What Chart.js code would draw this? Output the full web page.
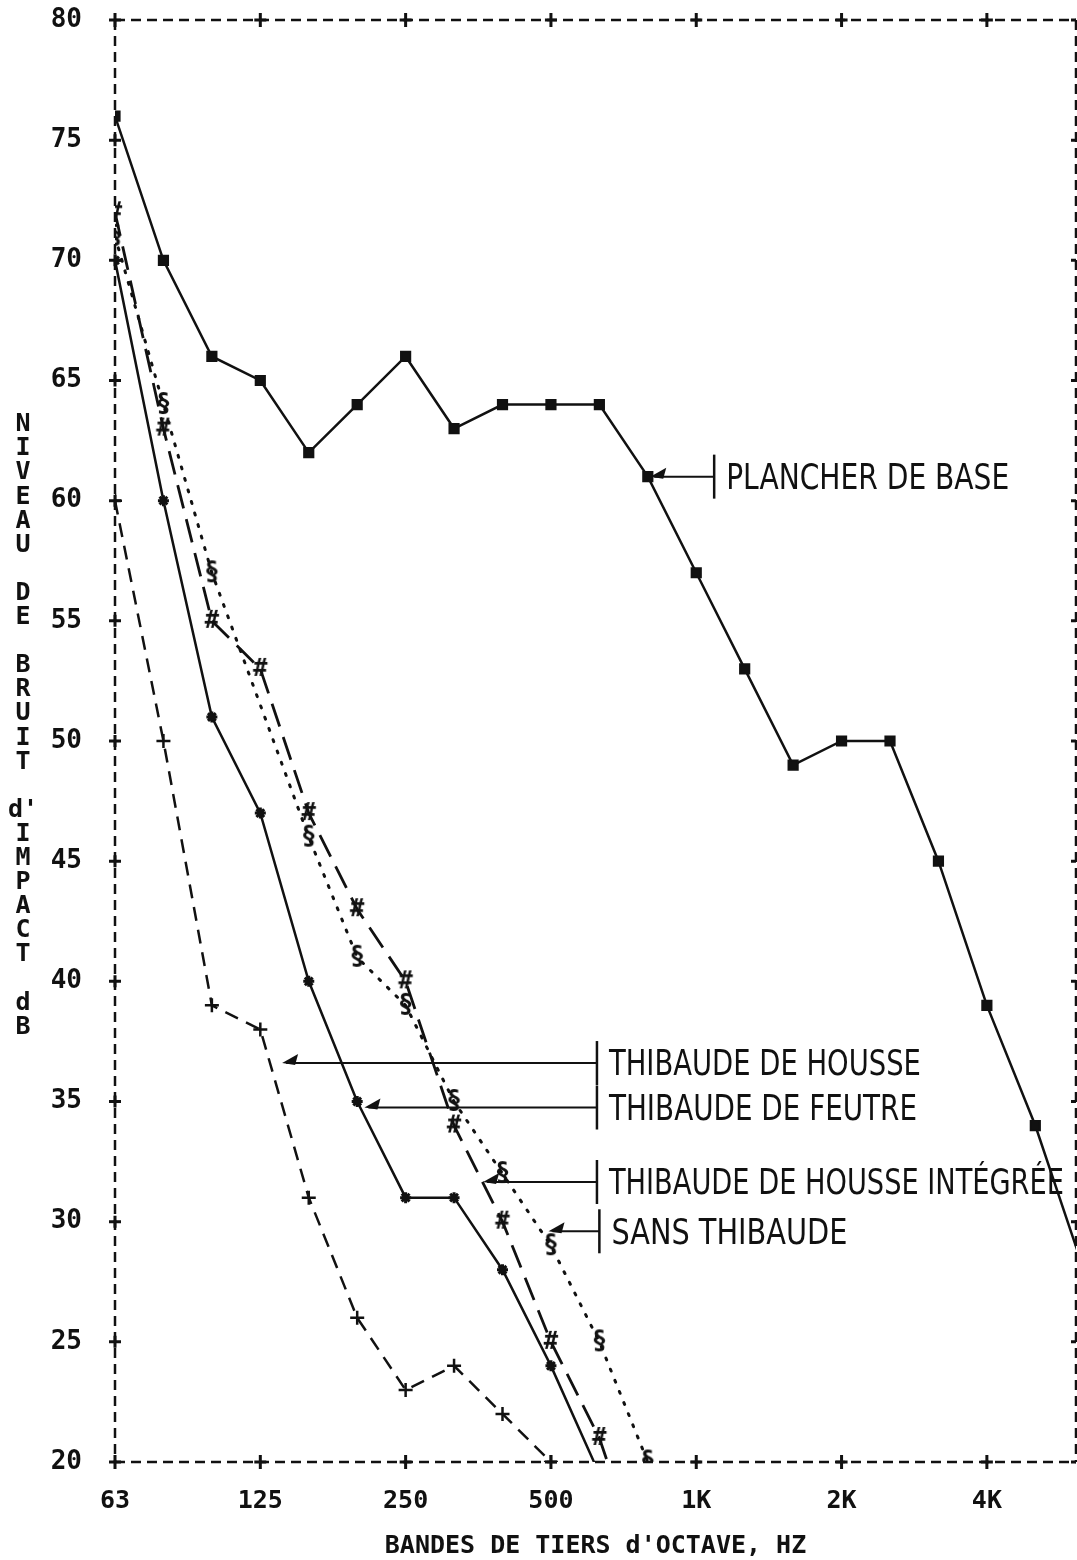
<!DOCTYPE html>
<html>
<head>
<meta charset="utf-8">
<title>Niveau de bruit d'impact</title>
<script src="https://cdn.jsdelivr.net/npm/chart.js@4.4.0/dist/chart.umd.min.js"></script>
<style>
	html, body { margin: 0; padding: 0; background: #fff; }
	#wrap { width: 1077px; height: 1560px; }
</style>
</head>
<body>
<div id="wrap"><canvas id="myChart" width="1077" height="1560"></canvas></div>
<script>
//-----------------Data-------------------//
// bandes de tiers d'octave (Hz)
const bands = ['63', '80', '100', '125', '160', '200', '250', '315', '400', '500',
	'630', '800', '1000', '1250', '1600', '2000', '2500', '3150', '4000', '5000', '6300'];
const xTickBands = ['63', '125', '250', '500', '1000', '2000', '4000'];
const xTickLabels = ['63', '125', '250', '500', '1K', '2K', '4K'];
const yTickValues = [20, 25, 30, 35, 40, 45, 50, 55, 60, 65, 70, 75, 80];

// niveaux (dB), one value per band, null = no point read
const plancherDeBase = [76, 70, 66, 65, 62, 64, 66, 63, 64, 64, 64, 61, 57, 53, 49, 50, 50, 45, 39, 34, 28];
const sansThibaude = [71, 64, 57, null, 46, 41, 39, 35, 32, 29, 25, 20];
const thibaudeHousseIntegree = [72, 63, 55, 53, 47, 43, 40, 34, 30, 25, 21, 15];
const thibaudeFeutre = [70, 60, 51, 47, 40, 35, 31, 31, 28, 24, 19.5];
const thibaudeHousse = [60, 50, 39, 38, 31, 26, 23, 24, 22, 20];

const noteLabels = ['PLANCHER DE BASE', 'THIBAUDE DE HOUSSE', 'THIBAUDE DE FEUTRE',
	'THIBAUDE DE HOUSSE INTÉGRÉE', 'SANS THIBAUDE'];
const yTitle = ['N', 'I', 'V', 'E', 'A', 'U', '', 'D', 'E', '', 'B', 'R', 'U', 'I', 'T', '',
	"d'", 'I', 'M', 'P', 'A', 'C', 'T', '', 'd', 'B'];
const xTitle = "BANDES DE TIERS d'OCTAVE, HZ";
//-----------------Data-------------------//

const ink = '#111';
const mono = '"DejaVu Sans Mono", "Liberation Mono", monospace';

// leader lines of the hand-written notes, in band index / dB
const notes = [
	{ tip: 11.05, tick: 12.37, y: 61.0, width: 283 },
	{ tip: 3.45, tick: 9.95, y: 36.6, width: 312 },
	{ tip: 5.15, tick: 9.95, y: 34.75, width: 308 },
	{ tip: 7.6, tick: 9.95, y: 31.65, width: 455 },
	{ tip: 8.95, tick: 10.0, y: 29.6, width: 236 }
];

function glyphMarker(ch, size) {
	const c = document.createElement('canvas');
	c.width = Math.round(size * 0.9);
	c.height = Math.round(size * 1.25);
	const g = c.getContext('2d');
	g.fillStyle = ink;
	g.font = 'bold ' + size + 'px ' + mono;
	g.textAlign = 'center';
	g.textBaseline = 'middle';
	g.fillText(ch, c.width / 2, c.height / 2 + 1);
	return c;
}

function toPoints(values) {
	return values.map((v, i) => ({ x: i, y: v }));
}

// keep tick labels from pushing the plot box inwards
function noScalePadding(s) {
	s.paddingTop = 0;
	s.paddingBottom = 0;
	s.paddingLeft = 0;
	s.paddingRight = 0;
}

const ctx = document.getElementById('myChart');

const framePlugin = {
	id: 'frame',
	beforeDatasetsDraw(chart) {
		const { ctx, chartArea: a, scales: { x, y } } = chart;
		ctx.save();
		ctx.strokeStyle = ink;
		ctx.lineWidth = 2.5;
		ctx.setLineDash([10, 6]);
		ctx.beginPath();
		ctx.moveTo(a.left, a.top); ctx.lineTo(a.right, a.top);
		ctx.moveTo(a.left, a.bottom); ctx.lineTo(a.right, a.bottom);
		ctx.moveTo(a.left, a.top); ctx.lineTo(a.left, a.bottom);
		ctx.moveTo(a.right, a.top); ctx.lineTo(a.right, a.bottom);
		ctx.stroke();
		ctx.setLineDash([]);
		ctx.lineWidth = 3;
		ctx.beginPath();
		y.ticks.forEach(t => {
			const py = y.getPixelForValue(t.value);
			ctx.moveTo(a.left - 6, py); ctx.lineTo(a.left + 6, py);
			ctx.moveTo(a.left, py - 6); ctx.lineTo(a.left, py + 6);
			ctx.moveTo(a.right - 5, py); ctx.lineTo(a.right, py);
		});
		x.ticks.forEach(t => {
			const px = x.getPixelForValue(t.value);
			[a.top, a.bottom].forEach(py => {
				ctx.moveTo(px - 6, py); ctx.lineTo(px + 6, py);
				ctx.moveTo(px, py - 7); ctx.lineTo(px, py + 7);
			});
		});
		ctx.stroke();
		ctx.restore();
	}
};

const notesPlugin = {
	id: 'notes',
	afterDatasetsDraw(chart) {
		const { ctx, chartArea: a, scales: { x, y } } = chart;
		ctx.save();
		ctx.strokeStyle = ink;
		ctx.fillStyle = ink;
		notes.forEach((n, i) => {
			const tipX = x.getPixelForValue(n.tip);
			const tickX = x.getPixelForValue(n.tick);
			const py = y.getPixelForValue(n.y);
			ctx.lineWidth = 2;
			ctx.beginPath();
			ctx.moveTo(tipX + 4, py); ctx.lineTo(tickX, py);
			ctx.stroke();
			// arrow head
			ctx.beginPath();
			ctx.moveTo(tipX, py);
			ctx.lineTo(tipX + 16, py - 9);
			ctx.lineTo(tipX + 13, py + 2);
			ctx.closePath();
			ctx.fill();
			// end tick
			ctx.lineWidth = 2.5;
			ctx.beginPath();
			ctx.moveTo(tickX, py - 22); ctx.lineTo(tickX, py + 22);
			ctx.stroke();
			// label
			const size = 36;
			ctx.font = size + 'px "DejaVu Sans Condensed", "DejaVu Sans", sans-serif';
			ctx.textBaseline = 'alphabetic';
			ctx.textAlign = 'left';
			const w = ctx.measureText(noteLabels[i]).width;
			ctx.save();
			ctx.translate(tickX + 12, py + size * 0.34);
			ctx.scale(n.width / w, 1);
			ctx.fillText(noteLabels[i], 0, 0);
			ctx.restore();
		});
		// axis titles
		ctx.font = 'bold 25px ' + mono;
		ctx.textAlign = 'center';
		ctx.textBaseline = 'middle';
		const step = 24.1;
		const y0 = (a.top + a.bottom) / 2 - 15 - step * (yTitle.length - 1) / 2;
		yTitle.forEach((ch, i) => {
			if (ch) ctx.fillText(ch, 23, y0 + i * step);
		});
		ctx.fillText(xTitle, (a.left + a.right) / 2, a.bottom + 84);
		ctx.restore();
	}
};

const tickIndex = xTickBands.map(b => bands.indexOf(b));

const myChart = new Chart(ctx, {
	type: 'line',
	data: {
		datasets: [
			{
				label: 'Plancher de base',
				data: toPoints(plancherDeBase),
				borderColor: ink,
				backgroundColor: ink,
				borderWidth: 2.5,
				pointStyle: 'rect',
				pointRadius: 6.5,
				pointBorderWidth: 2
			},
			{
				label: 'Sans thibaude',
				data: toPoints(sansThibaude),
				borderColor: ink,
				borderWidth: 3,
				borderDash: [2, 10],
				borderCapStyle: 'round',
				spanGaps: true,
				pointStyle: glyphMarker('§', 26)
			},
			{
				label: 'Thibaude de housse intégrée',
				data: toPoints(thibaudeHousseIntegree),
				borderColor: ink,
				borderWidth: 2.8,
				borderDash: [24, 11],
				pointStyle: glyphMarker('#', 24)
			},
			{
				label: 'Thibaude de feutre',
				data: toPoints(thibaudeFeutre),
				borderColor: ink,
				backgroundColor: ink,
				borderWidth: 2.5,
				pointStyle: 'star',
				pointRadius: 5.5,
				pointBorderWidth: 3
			},
			{
				label: 'Thibaude de housse',
				data: toPoints(thibaudeHousse),
				borderColor: ink,
				backgroundColor: ink,
				borderWidth: 2.5,
				borderDash: [14, 9],
				pointStyle: 'cross',
				pointRadius: 7,
				pointBorderWidth: 2.5
			}
		]
	},
	options: {
		responsive: false,
		animation: false,
		devicePixelRatio: 1,
		layout: { autoPadding: false, padding: { top: 20, right: 1, bottom: 0, left: 0 } },
		plugins: {
			legend: { display: false },
			tooltip: { enabled: false }
		},
		scales: {
			x: {
				type: 'linear',
				min: 0,
				max: 19.84,
				afterBuildTicks: s => { s.ticks = tickIndex.map(v => ({ value: v })); },
				afterFit: s => { s.height = 98; noScalePadding(s); },
				grid: { display: false },
				border: { display: false },
				ticks: {
					autoSkip: false,
					maxRotation: 0,
					padding: 16,
					color: ink,
					font: { family: mono, size: 25, weight: 'bold' },
					callback: v => xTickLabels[tickIndex.indexOf(v)]
				}
			},
			y: {
				min: 20,
				max: 80,
				afterBuildTicks: s => { s.ticks = yTickValues.map(v => ({ value: v })); },
				afterFit: s => { s.width = 115; noScalePadding(s); },
				grid: { display: false },
				border: { display: false },
				ticks: {
					padding: 25,
					color: ink,
					font: { family: mono, size: 26, weight: 'bold' }
				}
			}
		}
	},
	plugins: [framePlugin, notesPlugin]
});
</script>
</body>
</html>
